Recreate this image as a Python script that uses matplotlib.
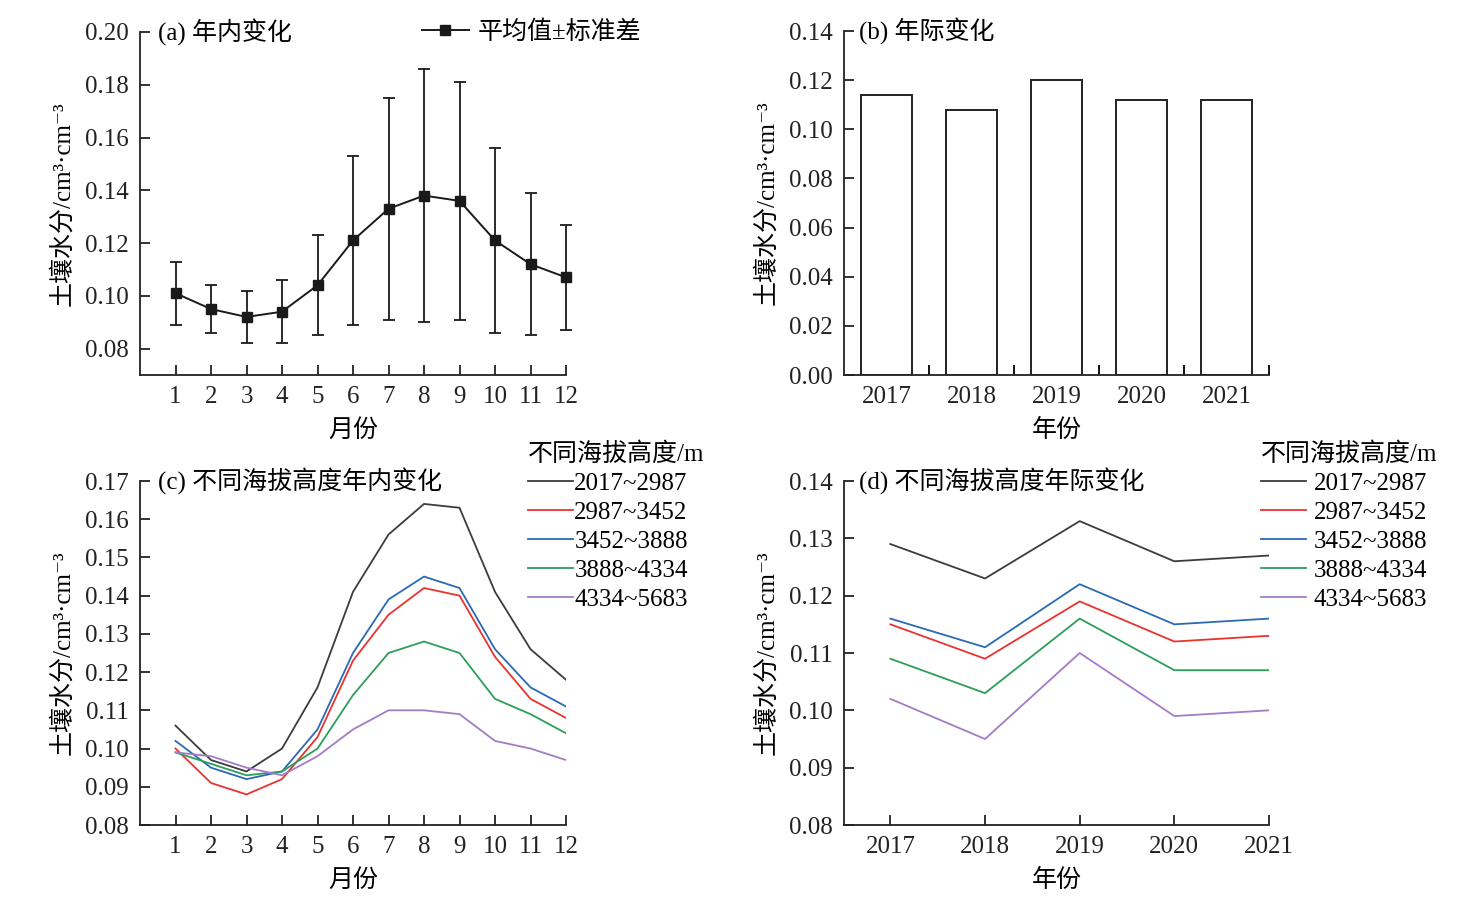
import numpy as np
import matplotlib
matplotlib.use("Agg")
import matplotlib.pyplot as plt
from matplotlib.lines import Line2D
from matplotlib.ticker import FormatStrFormatter

plt.rcParams["font.family"] = ["Liberation Serif", "Noto Sans CJK SC", "DejaVu Serif"]
plt.rcParams["axes.unicode_minus"] = False

# ---------- data ----------
months = np.arange(1, 13)
month_mean = [0.101, 0.095, 0.092, 0.094, 0.104, 0.121, 0.133, 0.138, 0.136, 0.121, 0.112, 0.107]
month_upper = [0.113, 0.104, 0.102, 0.106, 0.123, 0.153, 0.175, 0.186, 0.181, 0.156, 0.139, 0.127]
month_lower = [0.089, 0.086, 0.082, 0.082, 0.085, 0.089, 0.091, 0.090, 0.091, 0.086, 0.085, 0.087]

years = ["2017", "2018", "2019", "2020", "2021"]
year_mean = [0.114, 0.108, 0.120, 0.112, 0.112]

bands = ["2017~2987", "2987~3452", "3452~3888", "3888~4334", "4334~5683"]
band_colors = ["#3c3c3c", "#e8332f", "#2a6ab4", "#2c9e5a", "#a27cc4"]

band_month = [
    [0.106, 0.097, 0.094, 0.100, 0.116, 0.141, 0.156, 0.164, 0.163, 0.141, 0.126, 0.118],
    [0.100, 0.091, 0.088, 0.092, 0.103, 0.123, 0.135, 0.142, 0.140, 0.124, 0.113, 0.108],
    [0.102, 0.095, 0.092, 0.094, 0.105, 0.125, 0.139, 0.145, 0.142, 0.126, 0.116, 0.111],
    [0.099, 0.096, 0.093, 0.094, 0.100, 0.114, 0.125, 0.128, 0.125, 0.113, 0.109, 0.104],
    [0.099, 0.098, 0.095, 0.093, 0.098, 0.105, 0.110, 0.110, 0.109, 0.102, 0.100, 0.097],
]
band_year = [
    [0.129, 0.123, 0.133, 0.126, 0.127],
    [0.115, 0.109, 0.119, 0.112, 0.113],
    [0.116, 0.111, 0.122, 0.115, 0.116],
    [0.109, 0.103, 0.116, 0.107, 0.107],
    [0.102, 0.095, 0.110, 0.099, 0.100],
]

YLABEL = "土壤水分/cm³·cm⁻³"
FS = 18

W, H = 1471, 918
fig = plt.figure(figsize=(W / 100, H / 100), dpi=100)


def box(l, r, t, b):
    return [l / W, (H - b) / H, (r - l) / W, (b - t) / H]


def style(ax):
    for s in ("top", "right"):
        ax.spines[s].set_visible(False)
    for s in ("left", "bottom"):
        ax.spines[s].set_linewidth(1.3)
        ax.spines[s].set_color("#222222")
    ax.tick_params(direction="in", length=7, width=1.3, labelsize=FS, colors="#222222")
    ax.tick_params(axis="y", pad=8)
    ax.tick_params(axis="x", pad=8)


def labels(ax, xlabel, title, tx):
    ax.set_xlabel(xlabel, fontsize=FS, labelpad=8)
    ax.set_ylabel(YLABEL, fontsize=FS, labelpad=8)
    ax.text(tx, 1.0, title, transform=ax.transAxes, fontsize=FS, va="center")
    ax.yaxis.set_major_formatter(FormatStrFormatter("%.2f"))


def band_legend(ax, x0, textpad):
    leg = ax.legend(loc="upper left", bbox_to_anchor=(x0 / W, 1 - 437 / H),
                    bbox_transform=fig.transFigure, frameon=False, fontsize=FS,
                    title="不同海拔高度/m", title_fontsize=FS, handlelength=1.8,
                    handletextpad=textpad, labelspacing=0.26, borderpad=0.2,
                    borderaxespad=0)
    leg._legend_box.align = "left"
    return leg


# ---------- (a) ----------
ax = fig.add_axes(box(140, 566, 32, 375))
style(ax)
mean = np.array(month_mean)
yerr = [mean - np.array(month_lower), np.array(month_upper) - mean]
eb = ax.errorbar(months, mean, yerr=yerr, color="#1a1a1a", lw=1.4, marker="s", ms=7,
                 capsize=4, elinewidth=1.3, capthick=1.3)
for art in eb.get_children():
    art.set_clip_on(False)
ax.set_xlim(0, 12)
ax.set_ylim(0.07, 0.20)
ax.set_xticks(months)
ax.set_yticks(np.arange(0.08, 0.201, 0.02))
labels(ax, "月份", "(a) 年内变化", 0.042)
h = Line2D([], [], color="#1a1a1a", lw=1.4, marker="s", ms=7)
fig.legend([h], ["平均值±标准差"], loc="center left", bbox_to_anchor=(419 / W, 1 - 32 / H),
           frameon=False, fontsize=FS, handlelength=1.9, handletextpad=0.35,
           borderaxespad=0, borderpad=0.1)

# ---------- (b) ----------
ax = fig.add_axes(box(844, 1269, 31, 375))
style(ax)
xb = np.arange(len(years))
ax.bar(xb, year_mean, width=0.6, color="white", edgecolor="#222222", linewidth=1.4)
ax.set_xlim(-0.5, len(years) - 0.5)
ax.set_ylim(0, 0.14)
ax.set_xticks(xb)
ax.set_xticklabels(years)
ax.tick_params(axis="x", which="major", length=0, pad=8)
ax.set_xticks(xb + 0.5, minor=True)
ax.tick_params(axis="x", which="minor", direction="in", length=7, width=1.3)
ax.set_yticks(np.arange(0, 0.141, 0.02))
labels(ax, "年份", "(b) 年际变化", 0.035)

# ---------- (c) ----------
ax = fig.add_axes(box(140, 566, 481, 825))
style(ax)
for name, vals, c in zip(bands, band_month, band_colors):
    ax.plot(months, vals, color=c, lw=1.3, label=name)
ax.set_xlim(0, 12)
ax.set_ylim(0.08, 0.17)
ax.set_xticks(months)
ax.set_yticks(np.arange(0.08, 0.171, 0.01))
labels(ax, "月份", "(c) 不同海拔高度年内变化", 0.042)
band_legend(ax, 523, 0.05)

# ---------- (d) ----------
ax = fig.add_axes(box(844, 1269, 481, 825))
style(ax)
xy = np.arange(len(years))
for name, vals, c in zip(bands, band_year, band_colors):
    ax.plot(xy, vals, color=c, lw=1.3, label=name)
ax.set_xlim(-0.49, len(years) - 1)
ax.set_ylim(0.08, 0.14)
ax.set_xticks(xy)
ax.set_xticklabels(years)
ax.set_yticks(np.arange(0.08, 0.141, 0.01))
labels(ax, "年份", "(d) 不同海拔高度年际变化", 0.035)
band_legend(ax, 1256, 0.3)

fig.savefig("out.png", dpi=100)
